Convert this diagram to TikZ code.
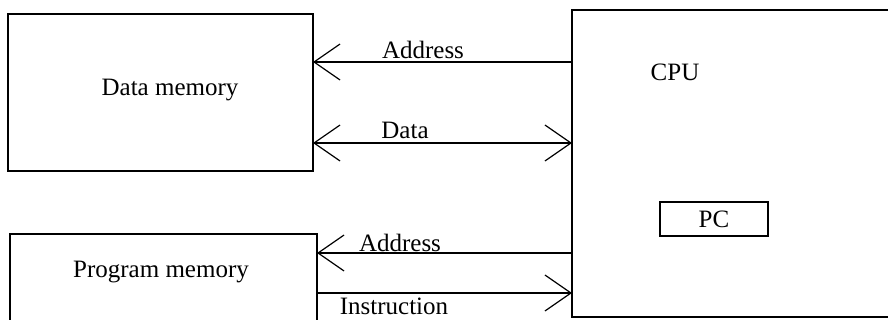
\documentclass[tikz,border=0pt]{standalone}
\usepackage{fontspec}
\setmainfont{Liberation Serif}
\usetikzlibrary{arrows.meta}
\begin{document}
\begin{tikzpicture}[
                x=0.5pt, y=-0.5pt,
                every node/.style={font=\fontsize{12.5}{14}\selectfont},
                box/.style={draw, line width=0.6pt, inner sep=0pt, outer sep=0pt},
                bus/.style={line width=0.6pt, -{Straight Barb[length=13pt,width=18pt]}},
                dbus/.style={line width=0.6pt, {Straight Barb[length=13pt,width=18pt]}-{Straight Barb[length=13pt,width=18pt]}},
            ]
            \useasboundingbox (0,0) rectangle (888,320);
            \clip (0,0) rectangle (888,320);
            % blocks
            \node[box, minimum width=152.5pt, minimum height=78.5pt] (dm) at (160.5,92.5) {};
            \node at (170,90) {Data memory};
            \node[box, minimum width=164pt, minimum height=153.5pt] (cpu) at (736,163.5) {};
            \node at (675,72) {CPU};
            \node[box, minimum width=54pt, minimum height=17pt] (pc) at (714,219) {PC};
            \node[box, minimum width=153.5pt, minimum height=53pt] (pm) at (163.5,287) {};
            \node at (161,272) {Program memory};
            % bus levels
            \coordinate (daddr) at (0,62);
            \coordinate (ddata) at (0,143);
            \coordinate (paddr) at (0,253);
            \coordinate (pinst) at (0,293);
            \draw[bus] (cpu.west |- daddr) -- (dm.east |- daddr);
            \draw[dbus] (dm.east |- ddata) -- (cpu.west |- ddata);
            \draw[bus] (cpu.west |- paddr) -- (pm.east |- paddr);
            \draw[bus] (pm.east |- pinst) -- (cpu.west |- pinst);
            \node at (423,50) {Address};
            \node at (405,130) {Data};
            \node at (400,243) {Address};
            \node at (394,306) {Instruction};
            \end{tikzpicture}
\end{document}
